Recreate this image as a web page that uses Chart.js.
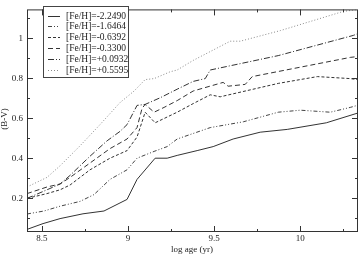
<!DOCTYPE html>
<html>
<head>
<meta charset="utf-8">
<script src="https://cdn.jsdelivr.net/npm/chart.js@4/dist/chart.umd.min.js"></script>
<style>
  html, body { margin: 0; padding: 0; background: #fff; }
  #wrap { width: 359px; height: 255px; }
</style>
</head>
<body>
<div id="wrap"><canvas id="grafico"></canvas></div>
<script>
// series labels ([Fe/H])
const labels = ['[Fe/H]=-2.2490', '[Fe/H]=-1.6464', '[Fe/H]=-0.6392',
                '[Fe/H]=-0.3300', '[Fe/H]=+0.0932', '[Fe/H]=+0.5595'];

// log age (yr) / (B-V)
const ageA = [8.413, 8.506, 8.605, 8.738, 8.860, 8.994, 9.052, 9.157, 9.227, 9.285, 9.401, 9.494, 9.610, 9.767, 9.924, 10.151, 10.331];
const bvA  = [0.044, 0.073, 0.098, 0.122, 0.136, 0.194, 0.294, 0.400, 0.400, 0.414, 0.438, 0.458, 0.496, 0.530, 0.544, 0.577, 0.625];

const ageB = [8.413, 8.512, 8.605, 8.721, 8.802, 8.895, 8.994, 9.052, 9.151, 9.227, 9.285, 9.477, 9.669, 9.872, 10.0, 10.174, 10.29, 10.331];
const bvB  = [0.121, 0.136, 0.160, 0.184, 0.218, 0.294, 0.342, 0.400, 0.434, 0.458, 0.496, 0.553, 0.582, 0.630, 0.640, 0.630, 0.654, 0.664];

const ageC = [8.413, 8.529, 8.605, 8.663, 8.779, 8.895, 8.994, 9.052, 9.081, 9.099, 9.157, 9.285, 9.378, 9.477, 9.535, 9.872, 10.099, 10.29, 10.331];
const bvC  = [0.199, 0.223, 0.242, 0.266, 0.342, 0.400, 0.438, 0.506, 0.582, 0.630, 0.577, 0.630, 0.673, 0.717, 0.707, 0.774, 0.808, 0.798, 0.793];

const ageD = [8.413, 8.529, 8.605, 8.663, 8.779, 8.895, 8.994, 9.052, 9.081, 9.099, 9.151, 9.209, 9.285, 9.378, 9.552, 9.581, 9.680, 9.721, 10.29, 10.331];
const bvD  = [0.223, 0.256, 0.271, 0.304, 0.376, 0.448, 0.496, 0.553, 0.649, 0.669, 0.630, 0.654, 0.688, 0.736, 0.779, 0.760, 0.769, 0.808, 0.904, 0.908];

const ageE = [8.413, 8.529, 8.605, 8.663, 8.779, 8.878, 8.953, 8.994, 9.052, 9.099, 9.186, 9.285, 9.378, 9.448, 9.477, 9.872, 10.308, 10.331];
const bvE  = [0.199, 0.242, 0.271, 0.314, 0.410, 0.487, 0.534, 0.568, 0.664, 0.669, 0.702, 0.745, 0.784, 0.798, 0.841, 0.913, 1.014, 1.022];

const ageF = [8.413, 8.529, 8.605, 8.721, 8.837, 8.953, 9.035, 9.099, 9.151, 9.244, 9.285, 9.378, 9.593, 9.651, 9.884, 10.25, 10.331];
const bvF  = [0.256, 0.304, 0.362, 0.462, 0.568, 0.678, 0.736, 0.793, 0.798, 0.832, 0.841, 0.889, 0.985, 0.985, 1.038, 1.134, 1.143];

const xTicksMajor = [8.5, 9, 9.5, 10];
const yTicksMajor = [0.2, 0.4, 0.6, 0.8, 1];

const series = [[ageA, bvA], [ageB, bvB], [ageC, bvC], [ageD, bvD], [ageE, bvE], [ageF, bvF]];
const dashes = [[], [4, 2, 1, 2, 1, 2], [3, 2], [5, 3], [6, 2, 1, 2], [1, 2]];
const colores = ['#333', '#444', '#333', '#333', '#333', '#8a8a8a'];

const serif = '"Liberation Serif", "DejaVu Serif", serif';

const isMajor = (v, list) => list.some(m => Math.abs(m - v) < 1e-6);

// ── frame with inward ticks, axis titles, legend box ──
const marco = {
    id: 'marco',
    afterDraw(chart) {
        const { ctx, chartArea: a, scales: { x, y } } = chart;
        ctx.save();
        ctx.strokeStyle = '#333';
        ctx.lineWidth = 1;
        ctx.setLineDash([]);
        ctx.strokeRect(a.left + 0.5, a.top + 0.5, a.right - a.left - 1, a.bottom - a.top - 1);

        ctx.beginPath();
        x.ticks.forEach(t => {
            const px = Math.round(x.getPixelForValue(t.value)) + 0.5;
            const len = isMajor(t.value, xTicksMajor) ? 6 : 3;
            ctx.moveTo(px, a.bottom); ctx.lineTo(px, a.bottom - len);
            ctx.moveTo(px, a.top); ctx.lineTo(px, a.top + len);
        });
        y.ticks.forEach(t => {
            const py = Math.round(y.getPixelForValue(t.value)) + 0.5;
            const len = isMajor(t.value, yTicksMajor) ? 6 : 3;
            ctx.moveTo(a.left, py); ctx.lineTo(a.left + len, py);
            ctx.moveTo(a.right, py); ctx.lineTo(a.right - len, py);
        });
        ctx.stroke();

        // axis titles
        ctx.fillStyle = '#222';
        ctx.font = '9px ' + serif;
        ctx.textAlign = 'center';
        ctx.textBaseline = 'middle';
        ctx.fillText('log age (yr)', 192, 250);
        ctx.save();
        ctx.translate(5, 119);
        ctx.rotate(-Math.PI / 2);
        ctx.fillText('(B-V)', 0, 0);
        ctx.restore();

        // legend
        ctx.fillStyle = '#fff';
        ctx.fillRect(43.5, 6.5, 85, 71);
        ctx.strokeStyle = '#444';
        ctx.strokeRect(43.5, 6.5, 85, 71);
        ctx.font = '9.5px ' + serif;
        ctx.textAlign = 'left';
        labels.forEach((lab, i) => {
            const ly = 15.5 + i * 10.8;
            ctx.strokeStyle = colores[i];
            ctx.setLineDash(dashes[i]);
            ctx.beginPath();
            ctx.moveTo(48, Math.round(ly) + 0.5);
            ctx.lineTo(60, Math.round(ly) + 0.5);
            ctx.stroke();
            ctx.fillStyle = '#222';
            ctx.fillText(lab, 66, ly + 0.5);
        });
        ctx.restore();
    }
};

new Chart(document.getElementById('grafico').getContext('2d'), {
    type: 'line',
    data: {
        datasets: series.map((s, i) => ({
            label: labels[i],
            data: s[0].map((v, k) => ({ x: v, y: s[1][k] })),
            borderColor: colores[i],
            borderDash: dashes[i],
            borderWidth: 1,
            pointRadius: 0,
            fill: false,
            tension: 0
        }))
    },
    options: {
        responsive: true,
        maintainAspectRatio: false,
        animation: false,
        layout: { padding: { top: 1, right: 1, left: 0, bottom: 0 } },
        plugins: {
            legend: { display: false },
            tooltip: { enabled: false }
        },
        scales: {
            x: {
                type: 'linear',
                min: 8.413,
                max: 10.335,
                grid: { display: false, drawTicks: false },
                border: { display: false },
                afterFit: s => { s.height = 23; },
                ticks: {
                    stepSize: 0.25,
                    includeBounds: false,
                    autoSkip: false,
                    maxRotation: 0,
                    padding: 1,
                    color: '#222',
                    font: { family: serif, size: 9 },
                    callback: v => isMajor(v, xTicksMajor) ? String(Math.round(v * 10) / 10) : ''
                }
            },
            y: {
                min: 0.031,
                max: 1.144,
                grid: { display: false, drawTicks: false },
                border: { display: false },
                afterFit: s => { s.width = 27; },
                ticks: {
                    stepSize: 0.1,
                    includeBounds: false,
                    autoSkip: false,
                    padding: 4,
                    color: '#222',
                    font: { family: serif, size: 9 },
                    callback: v => isMajor(v, yTicksMajor) ? String(Math.round(v * 10) / 10) : ''
                }
            }
        }
    },
    plugins: [marco]
});
</script>
</body>
</html>
